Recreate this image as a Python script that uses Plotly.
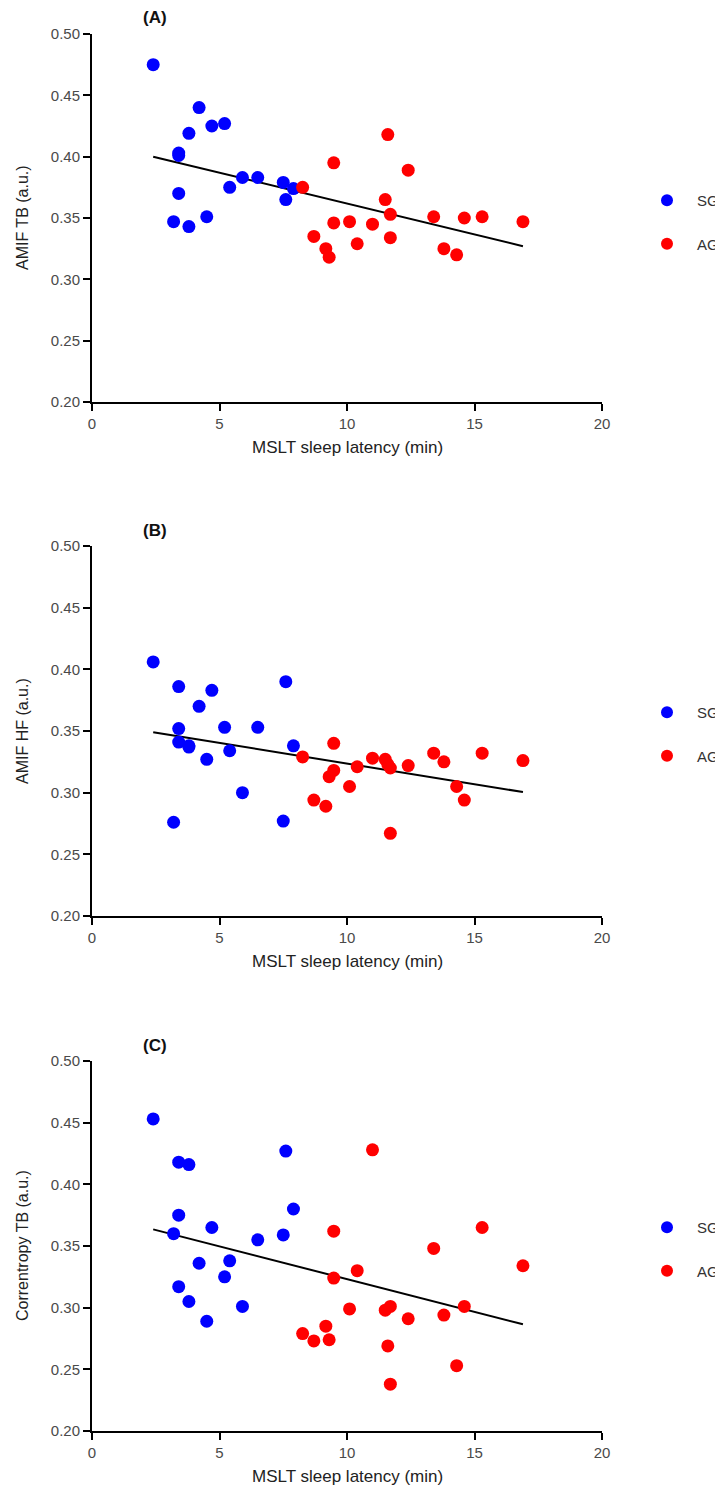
import plotly.graph_objects as go

# ---- data ----
sg_x = [2.4, 3.2, 3.4, 3.4, 3.4, 3.8, 3.8, 4.2, 4.5, 4.7, 5.2, 5.4, 5.9, 6.5, 7.5, 7.6, 7.9]
ag_x = [8.26, 8.7, 9.17, 9.3, 9.48, 9.48, 10.1, 10.4, 11.0, 11.5, 11.6, 11.7, 11.7, 12.4,
        13.4, 13.8, 14.3, 14.6, 15.3, 16.9]

sg_a = [0.475, 0.347, 0.403, 0.401, 0.370, 0.419, 0.343, 0.440, 0.351, 0.425, 0.427, 0.375,
        0.383, 0.383, 0.379, 0.365, 0.374]
ag_a = [0.375, 0.335, 0.325, 0.318, 0.395, 0.346, 0.347, 0.329, 0.345, 0.365, 0.418, 0.353,
        0.334, 0.389, 0.351, 0.325, 0.320, 0.350, 0.351, 0.347]

sg_b = [0.406, 0.276, 0.386, 0.352, 0.341, 0.338, 0.337, 0.370, 0.327, 0.383, 0.353, 0.334,
        0.300, 0.353, 0.277, 0.390, 0.338]
ag_b = [0.329, 0.294, 0.289, 0.313, 0.340, 0.318, 0.305, 0.321, 0.328, 0.327, 0.323, 0.320,
        0.267, 0.322, 0.332, 0.325, 0.305, 0.294, 0.332, 0.326]

sg_c = [0.453, 0.360, 0.418, 0.375, 0.317, 0.416, 0.305, 0.336, 0.289, 0.365, 0.325, 0.338,
        0.301, 0.355, 0.359, 0.427, 0.380]
ag_c = [0.279, 0.273, 0.285, 0.274, 0.362, 0.324, 0.299, 0.330, 0.428, 0.298, 0.269, 0.301,
        0.238, 0.291, 0.348, 0.294, 0.253, 0.301, 0.365, 0.334]

# regression line values at min / max of MSLT latency
fit_a = [0.400, 0.327]
fit_b = [0.349, 0.3005]
fit_c = [0.3635, 0.2865]

panel_labels = ["(A)", "(B)", "(C)"]
y_titles = ["AMIF TB (a.u.)", "AMIF HF (a.u.)", "Correntropy TB (a.u.)"]
x_title = "MSLT sleep latency (min)"
x_ticks = [0, 5, 10, 15, 20]
y_ticks = [0.20, 0.25, 0.30, 0.35, 0.40, 0.45, 0.50]

# ---- layout geometry (screen pixels; page body has an 8px margin) ----
W, H = 723, 1485
OFF = 8
x0_px, x1_px = 92 - OFF, 602 - OFF
panels_px = [(34 - OFF, 402 - OFF), (546 - OFF, 916 - OFF), (1061 - OFF, 1431 - OFF)]

FONT = "Liberation Sans, Arial, sans-serif"
BLUE = "#0000FF"
RED = "#FF0000"


def px_x(p):
    return p / W


def px_y(p):
    return 1 - p / H


fig = go.Figure()
panels = [(sg_a, ag_a, fit_a), (sg_b, ag_b, fit_b), (sg_c, ag_c, fit_c)]
line_x = [min(sg_x + ag_x), max(sg_x + ag_x)]

annotations = []
for i, (sg_y, ag_y, fit) in enumerate(panels):
    n = "" if i == 0 else str(i + 1)
    xa, ya = "x" + n, "y" + n
    leg = "legend" + n
    fig.add_trace(go.Scatter(x=line_x, y=fit, mode="lines", xaxis=xa, yaxis=ya,
                             line=dict(color="black", width=2), showlegend=False,
                             hoverinfo="skip"))
    fig.add_trace(go.Scatter(x=sg_x, y=sg_y, mode="markers", name="SG", xaxis=xa, yaxis=ya,
                             marker=dict(color=BLUE, size=13), legend=leg,
                             legendgroup="sg" + n))
    fig.add_trace(go.Scatter(x=ag_x, y=ag_y, mode="markers", name="AG", xaxis=xa, yaxis=ya,
                             marker=dict(color=RED, size=13), legend=leg,
                             legendgroup="ag" + n))
    top, bot = panels_px[i]
    axis_common = dict(showline=True, linecolor="black", linewidth=2, ticks="outside",
                       ticklen=7, tickwidth=2, tickcolor="black", showgrid=False,
                       zeroline=False, automargin=False,
                       tickfont=dict(family=FONT, size=15, color="#4a4a4a"))
    fig.update_layout(**{
        "xaxis" + n: dict(domain=[px_x(x0_px), px_x(x1_px)], range=[0, 20],
                          tickvals=x_ticks, anchor=ya, **axis_common),
        "yaxis" + n: dict(domain=[px_y(bot), px_y(top)], range=[0.2, 0.5],
                          tickvals=y_ticks, tickformat=".2f", anchor=xa, **axis_common),
        leg: dict(x=px_x(637 - OFF), y=px_y(top + 150), xanchor="left", yanchor="top",
                  font=dict(family=FONT, size=15, color="#333"), tracegroupgap=21,
                  itemwidth=50, bgcolor="rgba(0,0,0,0)", itemsizing="constant"),
    })
    # panel label
    annotations.append(dict(text="<b>" + panel_labels[i] + "</b>", xref="paper", yref="paper",
                            x=px_x(155 - OFF), y=px_y(top - 16), xanchor="center",
                            yanchor="middle", showarrow=False,
                            font=dict(family=FONT, size=17, color="#111")))
    # y title
    annotations.append(dict(text=y_titles[i], xref="paper", yref="paper", textangle=-90,
                            x=px_x(22 - OFF), y=px_y((top + bot) / 2), xanchor="center",
                            yanchor="middle", showarrow=False,
                            font=dict(family=FONT, size=16, color="#222")))
    # x title
    annotations.append(dict(text=x_title, xref="paper", yref="paper",
                            x=px_x((x0_px + x1_px) / 2), y=px_y(bot + 45), xanchor="center",
                            yanchor="middle", showarrow=False,
                            font=dict(family=FONT, size=17, color="#222")))

fig.update_layout(width=W, height=H, margin=dict(l=0, r=0, t=0, b=0, autoexpand=False),
                  plot_bgcolor="white", paper_bgcolor="white", annotations=annotations,
                  font=dict(family=FONT))

fig.write_html("out.html")
